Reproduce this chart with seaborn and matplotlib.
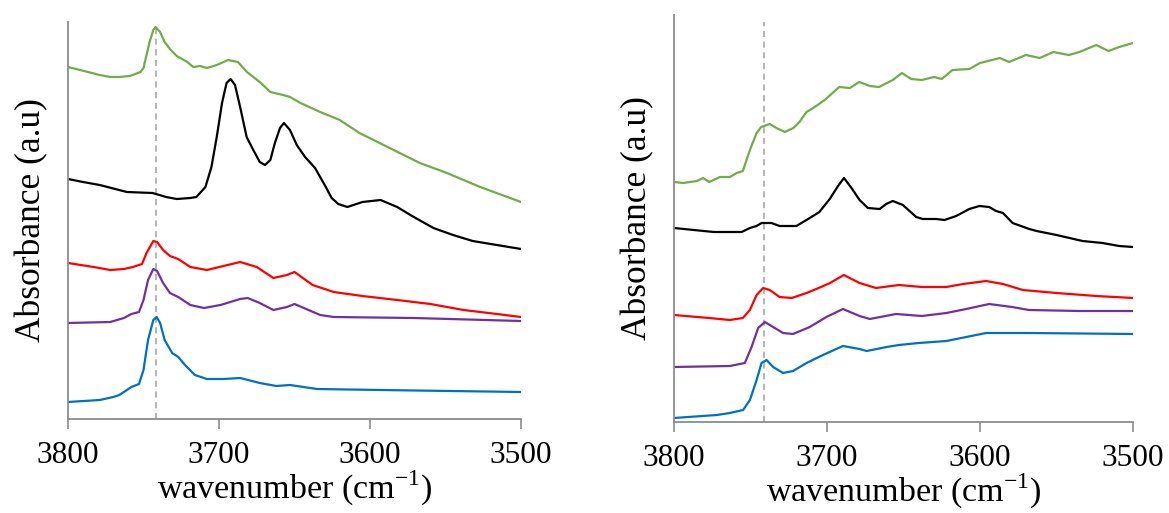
import numpy as np
import pandas as pd
import matplotlib
matplotlib.use("Agg")
import matplotlib.pyplot as plt
import seaborn as sns

# ---------------- data (absorbance, arbitrary units, offset-stacked) ----------------
# Left panel
L_green_wn = [3800, 3792, 3779, 3772, 3766, 3759, 3752, 3750, 3748, 3746, 3743.5, 3742, 3739, 3736, 3732.5,
              3728, 3721, 3717, 3712.5, 3708, 3701.5, 3694, 3687.5, 3681.5, 3673, 3666, 3657.5, 3653, 3646,
              3633, 3620, 3607, 3587, 3567, 3549, 3527, 3509, 3500]
L_green_ab = [352, 349, 344, 342, 342, 343, 347, 351, 364, 377, 389, 392, 387, 377, 370,
              363, 357, 352, 353, 351, 354, 359, 357, 347, 337, 327, 324, 322, 316,
              307, 299, 286, 271, 256, 246, 232, 222, 217]

L_black_wn = [3800, 3790, 3779, 3761, 3744, 3735, 3728, 3719, 3715, 3709, 3705, 3701.5, 3698, 3695, 3692.3,
              3689.4, 3686, 3681.7, 3677.3, 3673, 3669.5, 3666, 3663, 3659.6, 3657, 3653, 3648.5, 3643,
              3636.4, 3630, 3625.4, 3621, 3615, 3605, 3593, 3582, 3571, 3558, 3545, 3532, 3516, 3500]
L_black_ab = [240, 237, 234, 227, 226, 222, 220, 221, 222, 232, 252, 282, 316, 336, 340,
              334, 312, 282, 269, 257, 254, 259, 276, 291, 296, 289, 274, 262,
              251, 234, 221, 215, 212, 217, 219, 212, 202, 191, 184, 178, 174, 170]

L_red_wn = [3800, 3783, 3772, 3763, 3757, 3751, 3748, 3743.5, 3741, 3737, 3732.5, 3727, 3719, 3708, 3697,
            3686, 3675, 3664, 3655, 3650, 3638, 3624, 3605, 3582, 3560, 3538, 3516, 3500]
L_red_ab = [156, 152, 149, 150, 152, 155, 166, 178, 177, 169, 163, 160, 152, 149, 153,
            157, 152, 141, 144, 147, 134, 127, 123, 119, 115, 109, 105, 102]

L_purple_wn = [3800, 3772, 3763, 3758, 3753, 3750, 3747, 3743.5, 3741, 3737, 3732.5, 3727, 3719, 3710, 3699,
               3686, 3681, 3673, 3664, 3655, 3650, 3633, 3624, 3571, 3500]
L_purple_ab = [96, 97, 101, 105, 107, 119, 139, 150, 148, 136, 126, 122, 114, 111, 114,
               120, 121, 116, 109, 112, 115, 104, 102, 101, 98]

L_blue_wn = [3800, 3779, 3770, 3766, 3758, 3753, 3750, 3747, 3743.5, 3741.3, 3739, 3736, 3731, 3727, 3722.5,
             3716, 3708, 3697, 3686, 3673, 3662, 3653, 3635, 3593, 3500]
L_blue_ab = [17, 19, 22, 24, 32, 35, 49, 79, 99, 102, 96, 79, 66, 62, 54,
             44, 40, 40, 41, 36, 33, 34, 30, 29, 27]

# Right panel
R_green_wn = [3800, 3794, 3785, 3781, 3777, 3770, 3763.5, 3759, 3755, 3750.4, 3746, 3743, 3737.4, 3733, 3727.6,
              3722, 3718, 3713.4, 3709, 3701.5, 3692, 3685, 3679, 3672, 3666, 3657, 3651, 3645, 3638, 3630,
              3625, 3618, 3607, 3600, 3587, 3581, 3570, 3561, 3552, 3542, 3535, 3524, 3516, 3509, 3500]
R_green_ab = [240, 239, 241, 244, 240, 245, 245, 249, 251, 272, 289, 295, 298, 294, 290,
              294, 300, 310, 314, 322, 335, 334, 340, 336, 335, 342, 349, 343, 342, 345,
              343, 352, 353, 359, 364, 360, 367, 364, 370, 367, 370, 377, 371, 375, 379]

R_black_wn = [3800, 3787, 3774, 3763.5, 3755.8, 3750.4, 3746, 3742.8, 3736.3, 3731, 3720, 3713.4, 3705, 3698.2,
              3692.8, 3688.9, 3684, 3678.7, 3673.3, 3665.6, 3661.3, 3657, 3650.4, 3641.7, 3637.4, 3628.6,
              3623.2, 3615.6, 3607, 3600.4, 3594, 3589.5, 3585, 3578.7, 3567.8, 3563, 3550, 3533, 3520,
              3509, 3500]
R_black_ab = [194, 192, 190, 190, 190, 194, 196, 199, 199, 196, 196, 202, 210, 223,
              236, 244, 234, 222, 214, 213, 218, 221, 217, 205, 203, 203,
              202, 206, 213, 216, 215, 211, 209, 199, 193, 191, 187, 181, 179,
              176, 175]

R_red_wn = [3800, 3777, 3763.5, 3755, 3750.4, 3746, 3741.7, 3737.4, 3731, 3723, 3713.4, 3707, 3698, 3689,
            3678.7, 3668, 3653, 3638, 3622, 3611, 3596, 3585, 3572, 3550, 3524, 3500]
R_red_ab = [107, 104, 102, 104, 112, 127, 134, 132, 125, 124, 129, 133, 139, 147,
            139, 134, 137, 135, 135, 138, 141, 138, 132, 129, 126, 124]

R_purple_wn = [3800, 3763.5, 3753.7, 3749.3, 3745, 3740.6, 3735.2, 3728.7, 3722.2, 3711.3, 3700.4, 3689.6,
               3678.7, 3672, 3655, 3638, 3622, 3609, 3594, 3579, 3568, 3535, 3500]
R_purple_ab = [55, 56, 59, 75, 94, 100, 95, 89, 88, 95, 105, 113,
               106, 103, 108, 106, 109, 113, 118, 115, 112, 111, 111]

R_blue_wn = [3800, 3772, 3763.5, 3754.8, 3750.4, 3746, 3742.8, 3739.5, 3735.2, 3728.7, 3722.2, 3713.4, 3702.6,
             3689.6, 3678.7, 3674, 3661, 3653, 3640, 3622, 3609, 3596, 3568, 3500]
R_blue_ab = [4, 7, 9, 12, 22, 42, 59, 62, 55, 49, 51, 59, 67,
             76, 73, 71, 75, 77, 79, 81, 85, 89, 89, 88]

series_names = ["green", "black", "red", "purple", "blue"]
series_colors = {"green": "#70AD47", "black": "#000000", "red": "#FF0000",
                 "purple": "#7030A0", "blue": "#0070C0"}

x_ticks = [3800, 3700, 3600, 3500]
x_tick_labels = ["3800", "3700", "3600", "3500"]
ref_wavenumber = 3741.5

left_data = {"green": (L_green_wn, L_green_ab), "black": (L_black_wn, L_black_ab),
             "red": (L_red_wn, L_red_ab), "purple": (L_purple_wn, L_purple_ab),
             "blue": (L_blue_wn, L_blue_ab)}
right_data = {"green": (R_green_wn, R_green_ab), "black": (R_black_wn, R_black_ab),
              "red": (R_red_wn, R_red_ab), "purple": (R_purple_wn, R_purple_ab),
              "blue": (R_blue_wn, R_blue_ab)}


def to_long(d):
    rows = []
    for name in series_names:
        wn, ab = d[name]
        for w, a in zip(wn, ab):
            rows.append({"wn": w, "ab": a, "series": name})
    return pd.DataFrame(rows)


sns.set_style("white")
plt.rcParams["font.family"] = ["Liberation Serif", "DejaVu Serif"]
plt.rcParams["mathtext.fontset"] = "custom"
plt.rcParams["mathtext.rm"] = "Liberation Serif"
plt.rcParams["text.color"] = "black"
plt.rcParams["axes.labelcolor"] = "black"
plt.rcParams["xtick.color"] = "black"

W, H = 1169, 513
fig = plt.figure(figsize=(W / 100, H / 100), dpi=100)
axL = fig.add_axes([68 / W, 1 - 419 / H, 453 / W, 397 / H])
axR = fig.add_axes([674 / W, 1 - 422 / H, 459 / W, 407 / H])

spine_color = "#8C8C8C"
for ax, d, ytop, dash_top in [(axL, left_data, 397, 392 / 397), (axR, right_data, 407, 400 / 407)]:
    df = to_long(d)
    sns.lineplot(data=df, x="wn", y="ab", hue="series", palette=series_colors,
                 hue_order=series_names, sort=False, estimator=None, lw=1.6,
                 legend=False, ax=ax, solid_joinstyle="round", solid_capstyle="round")
    ax.axvline(ref_wavenumber, ymin=0, ymax=dash_top, color="#A0A0A0", lw=1.1,
               ls=(0, (4, 3)), zorder=0)
    ax.set_xlim(3800, 3500)
    ax.set_ylim(0, ytop)
    ax.set_yticks([])
    ax.set_xticks(x_ticks)
    ax.set_xticklabels(x_tick_labels)
    ax.tick_params(axis="x", direction="out", length=7, width=1.2, color=spine_color,
                   labelcolor="black", labelsize=22.5, pad=9, bottom=True)
    for s in ["top", "right"]:
        ax.spines[s].set_visible(False)
    for s in ["left", "bottom"]:
        ax.spines[s].set_color(spine_color)
        ax.spines[s].set_linewidth(1.3)
    ax.set_xlabel(r"wavenumber (cm$^{\mathregular{-1}}$)", fontsize=24.5, labelpad=-1)
    ax.set_ylabel("Absorbance (a.u)", fontsize=25.5, labelpad=14)

fig.savefig("out.png", dpi=100)
